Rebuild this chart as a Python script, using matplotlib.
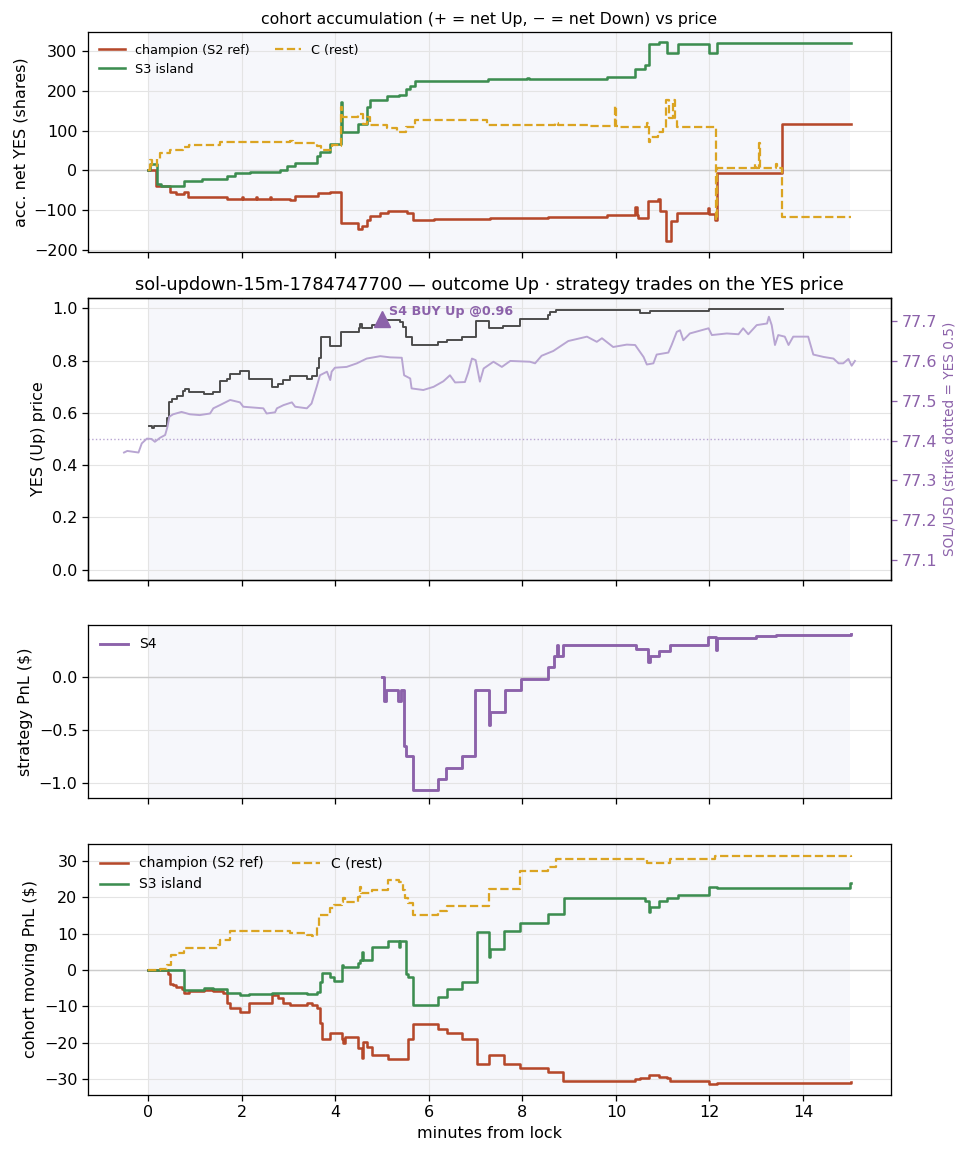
import matplotlib
matplotlib.use('Agg')
import matplotlib.pyplot as plt

# the source looks rendered at ~115 dpi, so scale sizes by 1.15
S = 1.15
plt.rcParams.update({
    "font.size": 10 * S,
    "axes.linewidth": 0.8 * S,
    "xtick.major.size": 3.5 * S,
    "ytick.major.size": 3.5 * S,
    "xtick.major.width": 0.8 * S,
    "ytick.major.width": 0.8 * S,
})

# ---- colours
RED = "#b5482a"
GREEN = "#3c8d50"
GOLD = "#dba422"
PURPLE = "#8c62aa"
SOLC = "#b8a5d2"
GRAY = "#4a4a4a"

# ---- panel 1: cohort accumulation (net YES shares)
acc_champ_t = [0, 0.16, 0.47, 0.6, 0.77, 0.85, 1.68, 2.0, 2.03, 2.3, 2.33, 2.6, 2.63, 3.03, 3.14, 3.63,
               3.89, 4.11, 4.49, 4.56, 4.67, 4.75, 4.96, 5.13, 5.53, 5.66, 6.1, 7.3, 7.95, 8.55, 9.17,
               9.8, 10.4, 10.44, 10.47, 10.69, 10.9, 10.94, 11.07, 11.17, 11.3, 11.97, 12.0, 12.12,
               12.17, 13.55, 15.03]
acc_champ_v = [0, -38, -53, -60, -55, -66, -72, -66, -72, -66, -72, -66, -72, -75, -64, -57,
               -55, -131, -147, -140, -124, -114, -108, -101, -108, -124, -122, -120, -119, -118, -116,
               -111, -91, -111, -120, -78, -72, -101, -178, -128, -107, -95, -110, -124,
               -7, 118, 118]

acc_s3_t = [0, 0.03, 0.18, 0.28, 0.77, 1.14, 1.68, 1.85, 2.17, 2.82, 2.96, 3.14, 3.6, 3.67, 3.89,
            4.12, 4.14, 4.49, 4.67, 4.74, 5.1, 5.35, 5.52, 5.6, 5.7, 7.27, 8.09, 8.15, 9.16, 9.8,
            10.41, 10.62, 10.71, 10.91, 11.1, 11.32, 11.98, 12.17, 15.03]
acc_s3_v = [0, 15, -35, -40, -26, -22, -14, -7, -3, 0, 11, 20, 36, 47, 66,
            172, 97, 118, 160, 178, 187, 190, 205, 212, 224, 229, 232, 230, 231, 234,
            254, 266, 319, 323, 296, 319, 296, 321, 321]

acc_c_t = [0, 0.04, 0.08, 0.18, 0.25, 0.46, 0.75, 0.86, 1.53, 3.03, 3.1, 3.6, 3.7, 3.92, 4.1,
           4.12, 4.14, 4.49, 4.6, 4.67, 4.74, 5.1, 5.31, 5.52, 5.7, 7.24, 8.7, 8.75, 9.45, 9.98,
           10.01, 10.09, 10.66, 10.71, 10.73, 10.9, 11.0, 11.07, 11.13, 11.23, 11.27, 11.31,
           12.13, 12.15, 12.97, 13.0, 13.05, 13.08, 13.42, 13.45, 13.55, 15.03]
acc_c_v = [0, 26, 11, 30, 43, 51, 60, 64, 72, 75, 70, 61, 51, 65, 61,
           160, 135, 143, 118, 135, 114, 106, 97, 110, 126, 114, 120, 114, 111, 162,
           111, 110, 120, 72, 83, 97, 107, 177, 131, 177, 131, 110,
           -124, 7, 15, 7, 68, 7, 15, 7, -116, -116]

# ---- panel 2: YES price and SOL/USD
yes_t = [0.02, 0.07, 0.13, 0.39, 0.45, 0.5, 0.61, 0.74, 0.78, 0.86, 1.18, 1.39, 1.53, 1.68, 1.75,
         1.96, 2.16, 2.64, 2.78, 2.89, 3.03, 3.39, 3.49, 3.6, 3.64, 3.69, 3.89, 4.13, 4.51, 4.53,
         4.56, 4.78, 4.95, 5.38, 5.45, 5.5, 5.63, 6.2, 6.38, 6.7, 7.0, 7.29, 7.59, 7.95, 8.55,
         8.6, 8.72, 10.51, 10.73, 11.98, 13.57]
yes_v = [0.551, 0.543, 0.55, 0.582, 0.643, 0.655, 0.665, 0.685, 0.69, 0.681, 0.672, 0.68, 0.723, 0.73, 0.749,
         0.761, 0.73, 0.699, 0.71, 0.725, 0.741, 0.73, 0.74, 0.771, 0.81, 0.89, 0.857, 0.908, 0.924, 0.942,
         0.924, 0.937, 0.954, 0.95, 0.93, 0.892, 0.86, 0.87, 0.88, 0.89, 0.952, 0.924, 0.933, 0.96, 0.975,
         0.985, 0.995, 0.982, 0.99, 0.998, 0.998]

sol_t = [-0.52, -0.45, -0.21, -0.14, -0.03, 0.07, 0.14, 0.25, 0.36, 0.41, 0.45, 0.53, 0.71, 0.89,
         1.1, 1.32, 1.39, 1.53, 1.75, 1.96, 2.03, 2.46, 2.53, 2.71, 2.75, 2.89, 3.07, 3.14, 3.39,
         3.49, 3.6, 3.67, 3.82, 3.89, 3.92, 3.99, 4.24, 4.46, 4.67, 4.96, 5.17, 5.42, 5.47, 5.6,
         5.63, 5.88, 6.1, 6.31, 6.45, 6.56, 6.77, 6.84, 6.92, 7.0, 7.09, 7.17, 7.38, 7.56, 7.74,
         8.16, 8.27, 8.41, 8.66, 8.98, 9.38, 9.59, 9.7, 9.94, 10.23, 10.41, 10.59, 10.66, 10.8,
         10.87, 11.12, 11.19, 11.3, 11.37, 11.44, 11.58, 11.98, 12.05, 12.37, 12.62, 12.72, 12.83,
         13.01, 13.23, 13.27, 13.33, 13.4, 13.47, 13.61, 13.69, 13.79, 14.11, 14.22, 14.44, 14.65,
         14.76, 14.86, 14.97, 15.04, 15.11]
sol_v = [77.370, 77.374, 77.370, 77.393, 77.405, 77.404, 77.397, 77.407, 77.414, 77.435, 77.460, 77.466, 77.472, 77.466,
         77.464, 77.468, 77.481, 77.489, 77.502, 77.496, 77.485, 77.481, 77.468, 77.471, 77.481, 77.489, 77.496, 77.485, 77.481,
         77.493, 77.535, 77.564, 77.573, 77.552, 77.573, 77.583, 77.585, 77.594, 77.606, 77.612, 77.609, 77.608, 77.564, 77.556,
         77.531, 77.527, 77.535, 77.549, 77.564, 77.546, 77.547, 77.571, 77.606, 77.602, 77.548, 77.581, 77.598, 77.585, 77.600,
         77.598, 77.594, 77.613, 77.625, 77.650, 77.661, 77.648, 77.657, 77.635, 77.641, 77.640, 77.610, 77.591, 77.594,
         77.616, 77.621, 77.640, 77.673, 77.677, 77.652, 77.669, 77.682, 77.665, 77.669, 77.667, 77.682, 77.667,
         77.690, 77.694, 77.711, 77.690, 77.640, 77.665, 77.661, 77.640, 77.661, 77.661, 77.616, 77.610, 77.606,
         77.594, 77.594, 77.605, 77.588, 77.600]
strike = 77.404

buy_t = 5.0
buy_px = 0.96

# ---- panel 3: S4 PnL
s4_t = [4.99, 5.03, 5.08, 5.34, 5.40, 5.47, 5.52, 5.67, 6.2, 6.36, 6.7, 6.99, 7.28, 7.30, 7.63, 7.96,
        8.55, 8.68, 8.74, 8.77, 8.87, 10.43, 10.69, 10.72, 10.91, 11.15, 11.97, 12.14, 12.17, 13.0,
        13.43, 15.02]
s4_v = [0.0, -0.23, -0.125, -0.23, -0.125, -0.656, -0.75, -1.062, -0.962, -0.859, -0.75, -0.125, -0.453, -0.334, -0.125, -0.022,
        0.094, 0.19, 0.30, 0.19, 0.30, 0.257, 0.14, 0.19, 0.244, 0.30, 0.375, 0.25, 0.36, 0.384,
        0.39, 0.40]

# ---- panel 4: cohort moving PnL
pnl_champ_t = [0, 0.43, 0.46, 0.53, 0.6, 0.73, 0.77, 0.88, 1.18, 1.36, 1.39, 1.6, 1.68, 1.75, 1.96,
               2.16, 2.64, 2.78, 2.89, 3.03, 3.39, 3.49, 3.6, 3.67, 3.71, 3.89, 4.14, 4.17, 4.2, 4.49,
               4.56, 4.58, 4.67, 4.78, 5.12, 5.56, 5.67, 6.2, 6.38, 6.7, 7.02, 7.29, 7.61, 7.95, 8.55,
               8.86, 10.41, 10.51, 10.71, 10.91, 11.09, 11.16, 11.98, 12.17, 15.03]
pnl_champ_v = [0, -1, -3.7, -4.1, -4.6, -5.3, -6.4, -5.8, -5.5, -5.2, -5.8, -6.4, -9.1, -10.5, -11.4,
               -9.1, -6.9, -7.8, -9.1, -9.6, -9.1, -9.6, -10.5, -14.6, -19.0, -17.2, -18.8, -19.9, -18.5, -21.5,
               -24.1, -19.7, -21.0, -23.3, -24.5, -18.8, -14.9, -16.3, -17.4, -18.8, -25.9, -23.3, -25.9, -27.0, -27.9,
               -30.4, -30.0, -29.7, -28.8, -29.3, -29.7, -30.4, -31.3, -31.1, -30.8]

pnl_s3_t = [0, 0.77, 1.18, 1.39, 1.68, 1.96, 2.16, 2.64, 3.39, 3.6, 3.67, 3.71, 3.89, 3.96, 4.14,
            4.17, 4.49, 4.52, 4.56, 4.6, 4.78, 5.12, 5.35, 5.39, 5.51, 5.56, 5.67, 6.2, 6.38, 6.7,
            7.02, 7.29, 7.31, 7.61, 7.95, 8.55, 8.88, 10.41, 10.62, 10.71, 10.73, 10.91, 11.1, 11.32,
            11.98, 12.17, 15.0, 15.03]
pnl_s3_v = [0, -5.5, -5.0, -5.3, -6.4, -6.9, -6.6, -6.4, -6.7, -5.9, -3.2, -0.7, -1.8, -2.9, 1.4,
            0.7, 1.8, 2.7, 5.0, 2.7, 6.2, 8.0, 6.4, 8.0, -1.1, -1.8, -9.6, -7.3, -5.3, -3.2,
            10.5, 3.7, 5.9, 10.7, 12.8, 15.4, 19.9, 19.7, 19.0, 16.0, 17.4, 18.9, 19.7, 20.6,
            22.7, 22.4, 23.8, 23.8]

pnl_c_t = [0, 0.25, 0.39, 0.48, 0.6, 0.77, 1.5, 1.53, 1.75, 3.03, 3.39, 3.49, 3.6, 3.65, 3.89,
           3.96, 4.14, 4.17, 4.2, 4.49, 4.52, 4.55, 4.78, 5.12, 5.35, 5.45, 5.49, 5.56, 5.67, 6.2,
           6.38, 7.29, 7.95, 8.55, 8.72, 8.86, 10.66, 11.16, 12.12, 15.03]
pnl_c_v = [0, 0.2, 1.4, 4.1, 4.8, 6.1, 6.9, 8.2, 10.8, 10.1, 9.6, 9.3, 11.9, 15.1, 16.9,
           17.8, 18.8, 19.7, 18.8, 20.1, 22.7, 21.2, 22.1, 24.7, 24.2, 22.0, 19.7, 18.5, 15.1, 16.3,
           17.6, 22.2, 27.2, 28.4, 30.4, 30.5, 29.3, 30.5, 31.3, 31.1]


def base_style(ax):
    ax.axvspan(0, 15, color="#eef0f8", alpha=0.5, zorder=0, lw=0)
    ax.grid(True, color="#e4e4e4", lw=0.8)
    ax.set_axisbelow(True)


fig = plt.figure(figsize=(9.68, 11.56), dpi=100)
L, W = 0.0909, 0.8295
ax1 = fig.add_axes([L, 0.782, W, 0.1903])
ax2 = fig.add_axes([L, 0.4983, W, 0.2439], sharex=ax1)
ax3 = fig.add_axes([L, 0.3097, W, 0.1497], sharex=ax1)
ax4 = fig.add_axes([L, 0.0528, W, 0.2171], sharex=ax1)

LW = 1.6 * S

# panel 1
base_style(ax1)
ax1.axhline(0, color="#cccccc", lw=1)
ax1.plot(acc_champ_t, acc_champ_v, drawstyle="steps-post", color=RED, lw=LW, label="champion (S2 ref)")
ax1.plot(acc_s3_t, acc_s3_v, drawstyle="steps-post", color=GREEN, lw=LW, label="S3 island")
ax1.plot(acc_c_t, acc_c_v, drawstyle="steps-post", color=GOLD, lw=1.4 * S, ls="--", label="C (rest)")
ax1.set_ylim(-205, 348)
ax1.set_ylabel("acc. net YES (shares)")
ax1.set_title("cohort accumulation (+ = net Up, \u2212 = net Down) vs price", fontsize=11.3)
ax1.legend(loc="upper left", ncol=2, frameon=False, fontsize=8 * S)

# panel 2
base_style(ax2)
ax2.axhline(0.5, color=SOLC, ls=":", lw=1)
ax2.plot(yes_t, yes_v, drawstyle="steps-post", color=GRAY, lw=1.2 * S)
ax2.plot([buy_t], [buy_px], marker="^", ms=11, color=PURPLE, ls="none", zorder=5)
ax2.annotate("S4 BUY Up @%.2f" % buy_px, (buy_t, buy_px), xytext=(5, 1), textcoords="offset points",
             fontsize=8 * S, fontweight="bold", color=PURPLE, va="bottom")
ax2.set_ylim(-0.04, 1.04)
ax2.set_ylabel("YES (Up) price")
ax2.set_title("sol-updown-15m-1784747700 \u2014 outcome Up \u00b7 strategy trades on the YES price",
              fontsize=12.8)
tw = ax2.twinx()
tw.plot(sol_t, sol_v, color=SOLC, lw=1.2 * S)
tw.set_ylim(strike - 0.354, strike + 0.354)
tw.set_ylabel("SOL/USD (strike dotted = YES 0.5)", color=PURPLE, fontsize=8.5 * S)
tw.tick_params(axis="y", colors=PURPLE)

# panel 3
base_style(ax3)
ax3.axhline(0, color="#cccccc", lw=1)
ax3.plot(s4_t, s4_v, drawstyle="steps-post", color=PURPLE, lw=1.8 * S, label="S4")
ax3.set_ylim(-1.14, 0.485)
ax3.set_ylabel("strategy PnL ($)")
ax3.legend(loc="upper left", frameon=False, fontsize=10)

# panel 4
base_style(ax4)
ax4.axhline(0, color="#cccccc", lw=1)
ax4.plot(pnl_champ_t, pnl_champ_v, drawstyle="steps-post", color=RED, lw=LW, label="champion (S2 ref)")
ax4.plot(pnl_s3_t, pnl_s3_v, drawstyle="steps-post", color=GREEN, lw=LW, label="S3 island")
ax4.plot(pnl_c_t, pnl_c_v, drawstyle="steps-post", color=GOLD, lw=1.4 * S, ls="--", label="C (rest)")
ax4.set_ylim(-34.3, 34.6)
ax4.set_ylabel("cohort moving PnL ($)")
ax4.set_xlabel("minutes from lock")
ax4.legend(loc="upper left", ncol=2, frameon=False, fontsize=10)

ax1.set_xlim(-1.29, 15.88)
for ax in (ax1, ax2, ax3):
    ax.tick_params(labelbottom=False)

fig.savefig("out.png", dpi=100)
